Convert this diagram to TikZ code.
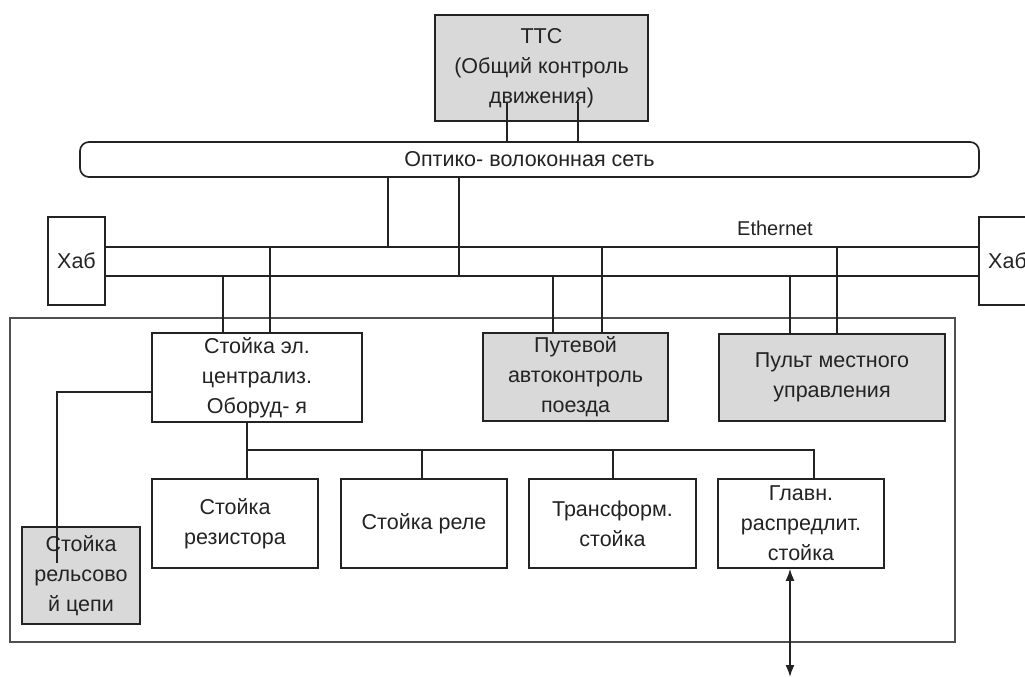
\documentclass[tikz,border=0pt]{standalone}
\usepackage{fontspec}
\setmainfont{Liberation Sans}
\usetikzlibrary{arrows.meta,calc}
\definecolor{boxgray}{RGB}{217,217,217}
\definecolor{ln}{RGB}{35,35,35}
\begin{document}
\begin{tikzpicture}[x=1pt,y=-1pt,
  every node/.style={font=\fontsize{21.5}{30}\selectfont, text=ln},
  box/.style={draw=ln, line width=1.7pt, inner sep=0pt, align=center, fill=white},
  graybox/.style={box, fill=boxgray},
  conn/.style={draw=ln, line width=1.6pt},
  frame/.style={draw=ln!80, line width=1.8pt}
]
\useasboundingbox (0,0) rectangle (1025,677);

% outer frame
\draw[frame] (10,318) rectangle (955,642);

% nodes
\node[graybox, minimum width=213pt, minimum height=106pt] (ttc) at (541.5,68) {ТТС\\(Общий контроль\\движения)};
\node[box, rounded corners=9pt, minimum width=899pt, minimum height=35pt] (fib) at (529.5,159.5) {Оптико- волоконная сеть};
\node[box, minimum width=57pt, minimum height=88pt] (hubL) at (76.5,261) {Хаб};
\node[box, minimum width=57pt, minimum height=88pt] (hubR) at (1007.5,261) {Хаб};
\node[font=\fontsize{20}{24}\selectfont] (eth) at (775,228) {Ethernet};

\node[box, minimum width=210pt, minimum height=89pt] (el) at (257,377.5) {Стойка эл.\\централиз.\\Оборуд- я};
\node[graybox, minimum width=185pt, minimum height=88pt] (put) at (575.5,377) {Путевой\\автоконтроль\\поезда};
\node[graybox, minimum width=226pt, minimum height=87pt] (pult) at (832,377.5) {Пульт местного\\управления};

\node[box, minimum width=166pt, minimum height=89pt] (rez) at (235,523.5) {Стойка\\резистора};
\node[box, minimum width=166pt, minimum height=89pt] (rele) at (424,523.5) {Стойка реле};
\node[box, minimum width=167pt, minimum height=89pt] (tr) at (612.5,523.5) {Трансформ.\\стойка};
\node[box, minimum width=166pt, minimum height=89pt] (gl) at (801,523.5) {Главн.\\распредлит.\\стойка};
\node[graybox, minimum width=118pt, minimum height=97pt] (rail) at (81,575.5) {Стойка\\рельсово\\й цепи};

% guide coordinates
\coordinate (xa) at (388,0);
\coordinate (xb) at (459,0);
\coordinate (xc) at (223,0);
\coordinate (xd) at (270,0);
\coordinate (xe) at (553,0);
\coordinate (xf) at (602,0);
\coordinate (xg) at (790,0);
\coordinate (xh) at (837,0);
\coordinate (xi) at (507,0);
\coordinate (xj) at (578,0);
\coordinate (xk) at (247,0);
\coordinate (xl) at (422,0);
\coordinate (xm) at (613,0);
\coordinate (xn) at (814,0);
\coordinate (xo) at (57,0);
\coordinate (ytop) at (0,102);
\coordinate (yb) at (0,450);
\coordinate (yr) at (0,392);
\coordinate (yr2) at (0,563);
\coordinate (ybot) at (0,677);
\coordinate (eA) at ([yshift=14pt]hubL.east);
\coordinate (eB) at ([yshift=-15pt]hubL.east);

% Ethernet lines
\draw[conn] (eA) -- (eA -| hubR.west);
\draw[conn] (eB) -- (eB -| hubR.west);

% TTC to fibre
\draw[conn] (xi |- ytop) -- (xi |- fib.north);
\draw[conn] (xj |- ytop) -- (xj |- fib.north);

% fibre to Ethernet
\draw[conn] (xa |- fib.south) -- (xa |- eA);
\draw[conn] (xb |- fib.south) -- (xb |- eB);

% Ethernet taps
\draw[conn] (xc |- eB) -- (xc |- el.north);
\draw[conn] (xd |- eA) -- (xd |- el.north);
\draw[conn] (xe |- eB) -- (xe |- put.north);
\draw[conn] (xf |- eA) -- (xf |- put.north);
\draw[conn] (xg |- eB) -- (xg |- pult.north);
\draw[conn] (xh |- eA) -- (xh |- pult.north);

% lower bus
\draw[conn] (xk |- el.south) -- (xk |- rez.north);
\draw[conn] (xk |- yb) -- (xn |- yb) -- (xn |- gl.north);
\draw[conn] (xl |- yb) -- (xl |- rele.north);
\draw[conn] (xm |- yb) -- (xm |- tr.north);

% rail circuit link
\draw[conn] (el.west |- yr) -- (xo |- yr) -- (xo |- yr2);

% external arrow
\draw[conn, {Latex[length=12pt,width=9pt]}-{Latex[length=12pt,width=9pt]}] (xg |- gl.south) -- (xg |- ybot);
\end{tikzpicture}
\end{document}
